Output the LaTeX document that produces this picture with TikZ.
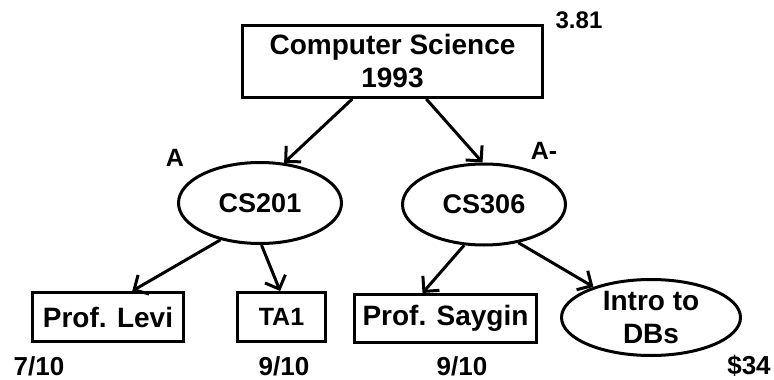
\documentclass[tikz,border=0pt]{standalone}
\usepackage{fontspec}
\setmainfont{Liberation Sans}
\usetikzlibrary{shapes.geometric,arrows.meta}
\begin{document}
\begin{tikzpicture}[x=1pt,y=-1pt,
  box/.style={draw,line width=3pt,rectangle,inner sep=0pt,align=center,font=\bfseries\fontsize{28}{33}\selectfont},
  oval/.style={draw,line width=3pt,ellipse,inner sep=0pt,align=center,font=\bfseries\fontsize{28}{33}\selectfont},
  arr/.style={line width=3pt,-{Straight Barb[length=11pt,width=22pt]}},
  lbl/.style={inner sep=0pt,font=\bfseries\fontsize{26}{30}\selectfont}
]
\useasboundingbox (0,0) rectangle (774,380);
\node[box,minimum width=300,minimum height=72] (cs) at (392.5,61.5) {Computer Science\\1993};
\node[oval,minimum width=163,minimum height=81,font=\bfseries\fontsize{27}{32}\selectfont] (c201) at (260,203) {CS201};
\node[oval,minimum width=163,minimum height=81,font=\bfseries\fontsize{27}{32}\selectfont] (c306) at (484,204.5) {CS306};
\node[box,minimum width=151,minimum height=49] (levi) at (108,317) {Prof. Levi};
\node[box,minimum width=88,minimum height=49,font=\bfseries\fontsize{25}{30}\selectfont] (ta) at (281.5,317) {TA1};
\node[box,minimum width=182,minimum height=48] (say) at (445.5,318.5) {Prof. Saygin};
\node[oval,minimum width=179,minimum height=76] (intro) at (651,317.5) {Intro to\\DBs};

\node[lbl,font=\bfseries\fontsize{24}{28}\selectfont] (g0) at (579,20) {3.81};
\node[lbl,font=\bfseries\fontsize{25}{30}\selectfont] (g1) at (175,158) {A};
\node[lbl,font=\bfseries\fontsize{25}{30}\selectfont] (g2) at (544,151) {A-};
\node[lbl] (s1) at (39,366) {7/10};
\node[lbl] (s2) at (284,366) {9/10};
\node[lbl] (s3) at (462,366) {9/10};
\node[lbl] (s4) at (749,366) {\$34};

\draw[arr] (cs.223.5) -- (c201.59);
\draw[arr] (cs.312.6) -- (c306.92);
\draw[arr] (c201.223) -- (levi.47);
\draw[arr] (c201.272) -- (ta.93);
\draw[arr] (c306.244) -- (say.132);
\draw[arr] (c306.312.6) -- (intro.152);
\end{tikzpicture}
\end{document}
